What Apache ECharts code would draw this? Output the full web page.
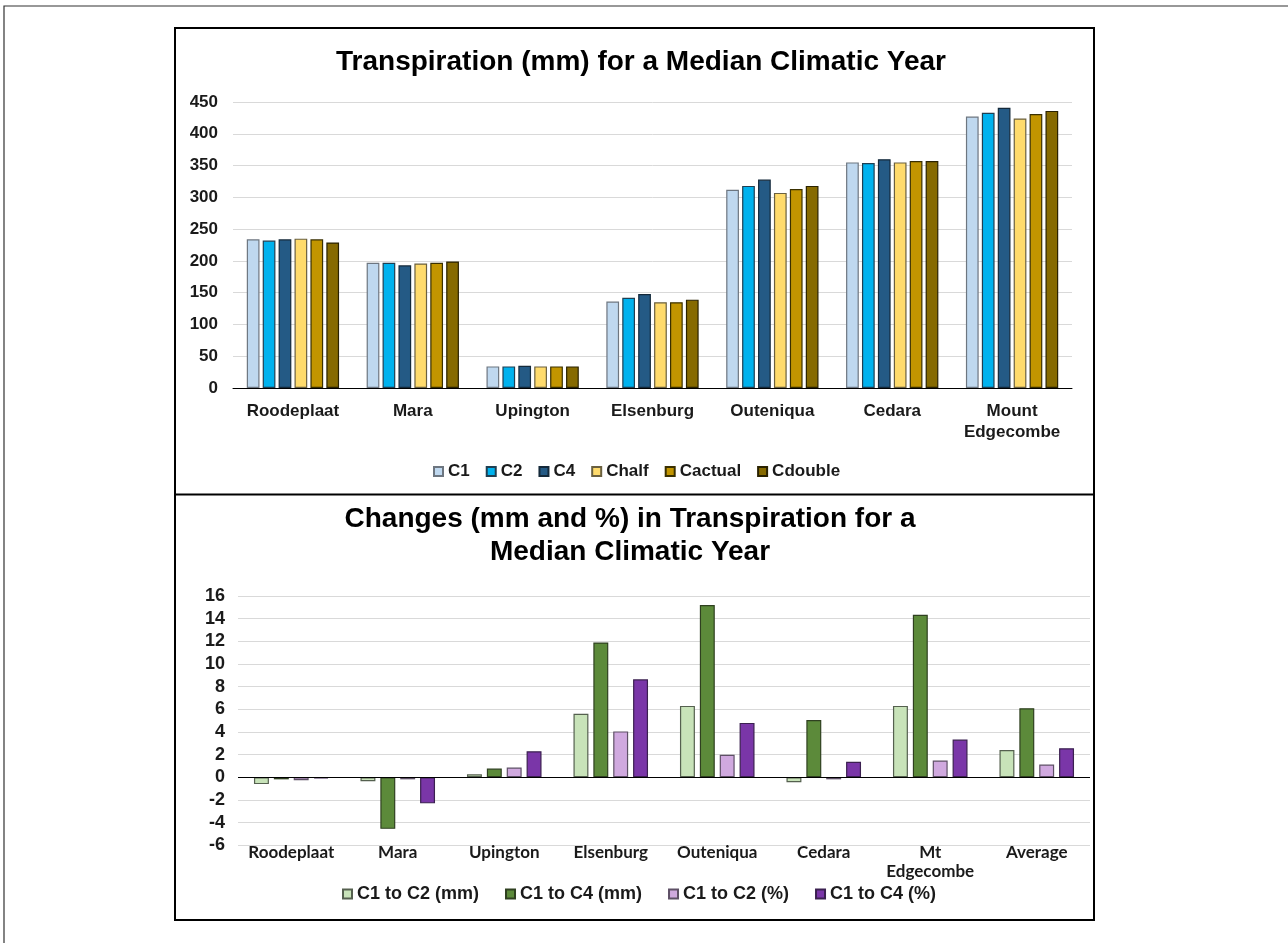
<!DOCTYPE html>
<html>
<head>
<meta charset="utf-8">
<title>Transpiration for a Median Climatic Year</title>
<script src="https://cdn.jsdelivr.net/npm/echarts@6/dist/echarts.min.js"></script>
<style>
  html, body { margin: 0; padding: 0; background: #ffffff; }
  #chart { width: 1288px; height: 943px; }
</style>
</head>
<body>
<div id="chart"></div>
<script>
// Transpiration (mm) per site and CO2 scenario
const sites = ['Roodeplaat', 'Mara', 'Upington', 'Elsenburg', 'Outeniqua', 'Cedara', 'Mount\nEdgecombe'];
const scenarioNames = ['C1', 'C2', 'C4', 'Chalf', 'Cactual', 'Cdouble'];
const transC1      = [234, 197, 34, 136, 312, 355, 427];
const transC2      = [232, 197, 34, 142, 318, 354, 433];
const transC4      = [234, 193, 35, 148, 328, 360, 441];
const transChalf   = [235, 196, 34, 135, 307, 355, 424];
const transCactual = [234, 197, 34, 135, 313, 357, 431];
const transCdouble = [229, 199, 34, 139, 318, 357, 436];
const transTicks = { min: 0, max: 450, step: 50 };

// Changes in transpiration relative to C1
const changeSites = ['Roodeplaat', 'Mara', 'Upington', 'Elsenburg', 'Outeniqua', 'Cedara', 'Mt\nEdgecombe', 'Average'];
const changeNames = ['C1 to C2 (mm)', 'C1 to C4 (mm)', 'C1 to C2 (%)', 'C1 to C4 (%)'];
const c1c2mm  = [-0.6, -0.35, 0.26, 5.6, 6.3, -0.44, 6.3, 2.4];
const c1c4mm  = [-0.18, -4.55, 0.77, 11.9, 15.2, 5.05, 14.35, 6.1];
const c1c2pct = [-0.26, -0.18, 0.86, 4.05, 1.98, -0.18, 1.48, 1.13];
const c1c4pct = [-0.09, -2.3, 2.3, 8.65, 4.8, 1.37, 3.33, 2.57];
const changeTicks = { min: -6, max: 16, step: 2 };

const FONT = '"Liberation Sans", Arial, sans-serif';
const CAT_FONT = 'Lato, "Open Sans", sans-serif';
const topColors = ['#BFD8EF', '#00B2EE', '#245A85', '#FFDB6C', '#C29500', '#866A00'];
const topBorders = ['#6d7680', '#1f3f52', '#14293a', '#6a6040', '#3a3000', '#2a2200'];
const botColors = ['#C8E3B9', '#5C8A3A', '#D0A9DF', '#7A36A8'];
const botBorders = ['#55604f', '#2f4020', '#5e5066', '#3b2050'];

const topSeriesData = [transC1, transC2, transC4, transChalf, transCactual, transCdouble];
const botSeriesData = [c1c2mm, c1c4mm, c1c2pct, c1c4pct];

const topSeries = scenarioNames.map((name, i) => ({
  name: name,
  type: 'bar',
  xAxisIndex: 0,
  yAxisIndex: 0,
  data: topSeriesData[i],
  barGap: '25%',
  barCategoryGap: '23%',
  itemStyle: { color: topColors[i], borderColor: topBorders[i], borderWidth: 1.2 }
}));

const botSeries = changeNames.map((name, i) => ({
  name: name,
  type: 'bar',
  xAxisIndex: 1,
  yAxisIndex: 1,
  data: botSeriesData[i],
  barGap: '33%',
  barCategoryGap: '30%',
  itemStyle: { color: botColors[i], borderColor: botBorders[i], borderWidth: 1.2 }
}));
// zero line of the change chart
botSeries[botSeries.length - 1].markLine = {
  silent: true,
  symbol: 'none',
  label: { show: false },
  lineStyle: { color: '#000000', width: 1, type: 'solid' },
  data: [{ yAxis: 0 }]
};

const chart = echarts.init(document.getElementById('chart'), null, { renderer: 'canvas' });

chart.setOption({
  animation: false,
  backgroundColor: '#ffffff',
  textStyle: { fontFamily: FONT },
  graphic: [
    // outer frame
    { type: 'polyline', shape: { points: [[4, 943], [4, 6], [1288, 6]] }, style: { stroke: '#333333', lineWidth: 1.2, fill: null } },
    // chart boxes
    { type: 'rect', shape: { x: 175, y: 28, width: 919, height: 892 }, style: { stroke: '#000000', lineWidth: 2, fill: null } },
    { type: 'line', shape: { x1: 175, y1: 494.5, x2: 1094, y2: 494.5 }, style: { stroke: '#000000', lineWidth: 2 } }
  ],
  title: [
    {
      text: 'Transpiration (mm) for a Median Climatic Year',
      left: 636, textAlign: 'center', top: 43,
      textStyle: { fontFamily: FONT, fontWeight: 'bold', fontSize: 28, color: '#000000' }
    },
    {
      text: 'Changes (mm and %) in Transpiration for a\nMedian Climatic Year',
      left: 625, textAlign: 'center', top: 498,
      textStyle: { fontFamily: FONT, fontWeight: 'bold', fontSize: 28, lineHeight: 33, color: '#000000' }
    }
  ],
  legend: [
    {
      data: scenarioNames,
      left: 428, top: 458,
      itemWidth: 9, itemHeight: 9, itemGap: 16,
      icon: 'rect',
      textStyle: { fontFamily: FONT, fontWeight: 'bold', fontSize: 17, color: '#1a1a1a' }
    },
    {
      data: changeNames,
      left: 337, top: 880,
      itemWidth: 9, itemHeight: 9, itemGap: 26,
      icon: 'rect',
      textStyle: { fontFamily: FONT, fontWeight: 'bold', fontSize: 18, color: '#1a1a1a' }
    }
  ],
  grid: [
    { left: 233, right: 216, top: 102, height: 286 },
    { left: 238, right: 198, top: 596, height: 249.3 }
  ],
  xAxis: [
    {
      type: 'category', gridIndex: 0, data: sites,
      axisLine: { show: true, lineStyle: { color: '#000000', width: 1 } },
      axisTick: { show: false },
      axisLabel: { margin: 13, fontFamily: FONT, fontWeight: 'bold', fontSize: 17, lineHeight: 21, color: '#1a1a1a', interval: 0 }
    },
    {
      type: 'category', gridIndex: 1, data: changeSites,
      axisLine: { show: false, onZero: false },
      axisTick: { show: false },
      axisLabel: { margin: -2, fontFamily: CAT_FONT, fontWeight: 'bold', fontSize: 17, lineHeight: 19, color: '#1a1a1a', interval: 0 }
    }
  ],
  yAxis: [
    {
      type: 'value', gridIndex: 0,
      min: transTicks.min, max: transTicks.max, interval: transTicks.step,
      axisLine: { show: false }, axisTick: { show: false },
      splitLine: { lineStyle: { color: '#D9D9D9', width: 1 } },
      axisLabel: { margin: 15, fontFamily: FONT, fontWeight: 'bold', fontSize: 17, color: '#1a1a1a' }
    },
    {
      type: 'value', gridIndex: 1,
      min: changeTicks.min, max: changeTicks.max, interval: changeTicks.step,
      axisLine: { show: false }, axisTick: { show: false },
      splitLine: { lineStyle: { color: '#D9D9D9', width: 1 } },
      axisLabel: { margin: 13, fontFamily: FONT, fontWeight: 'bold', fontSize: 18, color: '#1a1a1a' }
    }
  ],
  series: topSeries.concat(botSeries)
});
</script>
</body>
</html>
